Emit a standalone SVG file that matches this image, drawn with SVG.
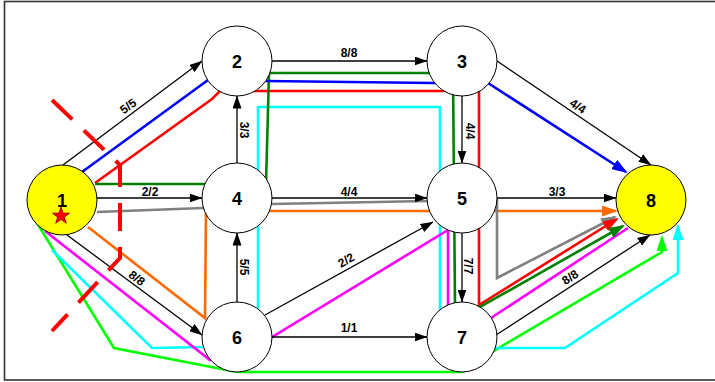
<svg xmlns="http://www.w3.org/2000/svg" width="715" height="382" viewBox="0 0 715 382">
<style>
.n{fill:#fff;stroke:#000;stroke-width:1}
.y{fill:#ffff00}
.nl{font-family:"Liberation Sans",Arial,sans-serif;font-weight:bold;font-size:18px;text-anchor:middle;fill:#000}
.el{font-family:"Liberation Sans",Arial,sans-serif;font-weight:bold;font-size:12px;text-anchor:middle;fill:#000}
.e{fill:none;stroke:#000;stroke-width:1.3;marker-end:url(#ak)}
.f{fill:none;stroke-width:2.6;stroke-linejoin:miter}
</style>
<defs>
<marker id="ak" markerWidth="13" markerHeight="9" refX="12.5" refY="4.5" orient="auto" markerUnits="userSpaceOnUse"><path d="M0,0L13,4.5L0,9z" fill="#000"/></marker>
<marker id="mb" markerWidth="16" markerHeight="11" refX="14" refY="5.5" orient="auto" markerUnits="userSpaceOnUse"><path d="M0,0L16,5.5L0,11z" fill="#0000ff"/></marker>
<marker id="mr" markerWidth="16" markerHeight="11" refX="14" refY="5.5" orient="auto" markerUnits="userSpaceOnUse"><path d="M0,0L16,5.5L0,11z" fill="#ff0000"/></marker>
<marker id="mg" markerWidth="16" markerHeight="11" refX="14" refY="5.5" orient="auto" markerUnits="userSpaceOnUse"><path d="M0,0L16,5.5L0,11z" fill="#008000"/></marker>
<marker id="mo" markerWidth="16" markerHeight="11" refX="14" refY="5.5" orient="auto" markerUnits="userSpaceOnUse"><path d="M0,0L16,5.5L0,11z" fill="#ff6a00"/></marker>
<marker id="ma" markerWidth="16" markerHeight="11" refX="14" refY="5.5" orient="auto" markerUnits="userSpaceOnUse"><path d="M0,0L16,5.5L0,11z" fill="#808080"/></marker>
<marker id="ml" markerWidth="16" markerHeight="11" refX="14" refY="5.5" orient="auto" markerUnits="userSpaceOnUse"><path d="M0,0L16,5.5L0,11z" fill="#00ff00"/></marker>
<marker id="mc" markerWidth="16" markerHeight="11" refX="14" refY="5.5" orient="auto" markerUnits="userSpaceOnUse"><path d="M0,0L16,5.5L0,11z" fill="#00ffff"/></marker>
</defs>
<rect x="4.5" y="1.5" width="720" height="378.5" fill="#fff" stroke="#333" stroke-width="1.6"/>
<g id="flows">
<path class="f" stroke="#00ff00" marker-end="url(#ml)" d="M37,223 L114,348 L237,372 L463,372 L497,349 L662,252 L662,237"/>
<path class="f" stroke="#00ffff" marker-end="url(#mc)" d="M52,250 L152,348 L205,347 L258,320 L258,107 L440,107 L440,330 L495,348 L565,348 L678,273 L678,226"/>
<path class="f" stroke="#ff00ff" d="M45,231 L210,360 L272,337 L448,230 L448,310 L491,318 L628,228"/>
<path class="f" stroke="#ff6a00" marker-end="url(#mo)" d="M88,227 L205,318 L206,211 L616,211"/>
<path class="f" stroke="#808080" marker-end="url(#ma)" d="M97,212 L203,208 L272,204 L427,201 L497,200 L497,278 L615,217"/>
<path class="f" stroke="#ff0000" marker-end="url(#mr)" d="M95,183 L212,99 L220,91 L479,91 L479,305 L617,219"/>
<path class="f" stroke="#008000" marker-end="url(#mg)" d="M95,184 L266,184 L269,73 L453,73 L455,305 L480,307 L623,226"/>
<path class="f" stroke="#0000ff" marker-end="url(#mb)" d="M82,172 L208,80 L266,81 L433,83 L488,83 L626,172"/>
</g>
<g id="connectors">
<path class="e" d="M63,165 L202,61"/>
<path class="e" d="M272,61 L427,61"/>
<path class="e" d="M497,61 L651,165"/>
<path class="e" d="M97,198 L202,198"/>
<path class="e" d="M237,163 L237,96"/>
<path class="e" d="M272,198 L427,198"/>
<path class="e" d="M462,96 L462,163"/>
<path class="e" d="M497,198 L616,198"/>
<path class="e" d="M67,235 L202,335"/>
<path class="e" d="M237,302 L237,233"/>
<path class="e" d="M265,315 L433,222"/>
<path class="e" d="M272,337 L427,337"/>
<path class="e" d="M462,233 L462,302"/>
<path class="e" d="M496,335 L650,235"/>
</g>
<path id="cut" d="M52,100 L120,165 L120,258 L52,331" fill="none" stroke="#ff0000" stroke-width="4" stroke-dasharray="28 16"/>
<g id="n1"><circle class="n y" cx="62" cy="200" r="35"/><text class="nl" x="62" y="206.5">1</text>
<polygon points="61,207 63.1,213.1 69.6,213.2 64.4,217.1 66.3,223.3 61,219.6 55.7,223.3 57.6,217.1 52.4,213.2 58.9,213.1" fill="#ff0000" stroke="#800000" stroke-width="0.8"/></g>
<g id="n2"><circle class="n" cx="237" cy="61" r="35"/><text class="nl" x="237" y="67.5">2</text></g>
<g id="n3"><circle class="n" cx="462" cy="61" r="35"/><text class="nl" x="462" y="67.5">3</text></g>
<g id="n4"><circle class="n" cx="237" cy="198" r="35"/><text class="nl" x="237" y="204.5">4</text></g>
<g id="n5"><circle class="n" cx="462" cy="198" r="35"/><text class="nl" x="462" y="204.5">5</text></g>
<g id="n6"><circle class="n" cx="237" cy="337" r="35"/><text class="nl" x="237" y="343.5">6</text></g>
<g id="n7"><circle class="n" cx="462" cy="337" r="35"/><text class="nl" x="462" y="343.5">7</text></g>
<g id="n8"><circle class="n y" cx="651" cy="200" r="35"/><text class="nl" x="651" y="206.5">8</text></g>
<g id="labels">
<text class="el" transform="translate(128,106) rotate(-36.3)" y="4.3">5/5</text>
<text class="el" x="349" y="56.5">8/8</text>
<text class="el" transform="translate(578,106) rotate(33.3)" y="4.3">4/4</text>
<text class="el" x="150" y="195.5">2/2</text>
<text class="el" x="349" y="195.5">4/4</text>
<text class="el" x="557" y="195.5">3/3</text>
<text class="el" transform="translate(244,130) rotate(90)" y="4.3">3/3</text>
<text class="el" transform="translate(470,131) rotate(90)" y="4.3">4/4</text>
<text class="el" transform="translate(244,267) rotate(90)" y="4.3">5/5</text>
<text class="el" transform="translate(468,266) rotate(90)" y="4.3">7/7</text>
<text class="el" transform="translate(137,278) rotate(36.5)" y="4.3">8/8</text>
<text class="el" transform="translate(346,260) rotate(-30)" y="4.3">2/2</text>
<text class="el" x="349" y="332">1/1</text>
<text class="el" transform="translate(570,277) rotate(-33)" y="4.3">8/8</text>
</g>
</svg>
